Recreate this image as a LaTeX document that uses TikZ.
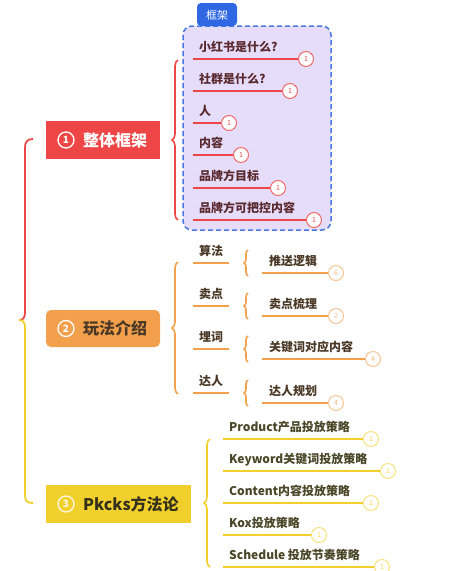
\documentclass[tikz,border=0pt]{standalone}
\usepackage{fontspec}
\setmainfont{Noto Sans CJK SC}
\usetikzlibrary{decorations.pathreplacing}

\definecolor{cRed}{HTML}{EE4646}
\definecolor{cOrange}{HTML}{F2A04C}
\definecolor{cYellow}{HTML}{F1CF2C}
\definecolor{cLav}{HTML}{E6DDFB}
\definecolor{cBlue}{HTML}{4A78DE}
\definecolor{cTab}{HTML}{2F68E2}
\definecolor{tRed}{HTML}{5A2A2E}
\definecolor{tOrange}{HTML}{4A3826}
\definecolor{tYellow}{HTML}{4A4628}

\tikzset{
  headbox/.style={minimum height=38pt, inner sep=0pt},
  headnum/.style={circle, draw=white, line width=1.3pt, minimum size=16pt, inner sep=0pt,
    text=white, font=\bfseries\fontsize{10}{10}\selectfont},
  headtxt/.style={anchor=west, inner sep=0pt, font=\bfseries\fontsize{16}{16}\selectfont},
  item/.style={anchor=base west, inner sep=0pt, font=\bfseries\fontsize{12}{12}\selectfont},
  badge/.style={circle, fill=white, line width=1pt, minimum size=15pt, inner sep=0pt,
    font=\fontsize{7}{7}\selectfont},
  rbadge/.style={badge, draw=cRed!80, text=cRed},
  obadge/.style={badge, draw=cOrange!60, text=cOrange!70},
  ybadge/.style={badge, draw=cYellow!60, text=cYellow!80},
  rline/.style={cRed, line width=2.4pt},
  oline/.style={cOrange, line width=2pt},
  yline/.style={cYellow, line width=2pt},
  mbrace/.style={decorate, decoration={brace, amplitude=#1}, line width=1.6pt},
}

\begin{document}
\begin{tikzpicture}[x=1pt, y=-1pt]
  \useasboundingbox (0,0) rectangle (476,571);

  % spine on the left
  \coordinate (s1) at (33,139);
  \coordinate (sm) at (19,320);
  \coordinate (s3) at (33,503);
  \draw[cRed, line width=1.8pt] (s1) .. controls (27,139) and (25,142) .. (25,148)
    -- (25,312) .. controls (25,318) and (23,320) .. (sm);
  \draw[cYellow, line width=1.8pt] (sm) .. controls (23,320) and (25,322) .. (25,328)
    -- (25,495) .. controls (25,501) and (27,503) .. (s3);

  % branch 1
  \node[headbox, fill=cRed, minimum width=114pt] (b1) at (103,140) {};
  \node[headnum] (h1) at (66,140) {1};
  \node[headtxt, text=white] (ht1) at (83,140) {整体框架};
  \draw[cBlue, dashed, line width=1.5pt, fill=cLav, rounded corners=9pt,
    dash pattern=on 5pt off 3pt] (183,26) rectangle (331,230);
  \fill[cTab, rounded corners=4pt] (197,26) -- (197,3) -- (237,3) -- (237,26) -- cycle;
  \node[text=white, font=\fontsize{11}{11}\selectfont] (tab) at (217,15) {框架};
  \coordinate (r1t) at (178,60);
  \coordinate (r1b) at (178,220);
  \draw[cRed, mbrace=6pt] (r1b) -- (r1t);
  \foreach \t/\y/\c [count=\i] in {小红书是什么?/59/306, 社群是什么?/91/290, 人/123/229,
      内容/155/241, 品牌方目标/188/278, 品牌方可把控内容/220/314} {
    \coordinate (ra\i) at (193,\y);
    \node[rbadge] (rc\i) at (\c,\y) {1};
    \draw[rline] (ra\i) -- (rc\i.west);
    \node[item, text=tRed] (rt\i) at (199,{\y-8}) {\t};
  }

  % branch 2
  \node[headbox, fill=cOrange, minimum width=114pt, minimum height=37pt,
    rounded corners=5pt] (b2) at (103,328.5) {};
  \node[headnum] (h2) at (66,328.5) {2};
  \node[headtxt, text=tOrange] (ht2) at (83,328.5) {玩法介绍};
  \coordinate (o2t) at (178,262);
  \coordinate (o2b) at (178,394);
  \draw[cOrange, mbrace=6pt] (o2b) -- (o2t);
  \foreach \t/\y/\s/\c/\n [count=\i] in {算法/263/推送逻辑/336/6, 卖点/306/卖点梳理/336/2,
      埋词/349/关键词对应内容/373/4, 达人/393/达人规划/336/4} {
    \coordinate (oa\i) at (193,\y);
    \coordinate (ob\i) at (229,\y);
    \draw[oline] (oa\i) -- (ob\i);
    \node[item, text=tOrange] (ot\i) at (199,{\y-8}) {\t};
    \coordinate (ou\i) at (248,{\y+13});
    \coordinate (ov\i) at (248,{\y-13});
    \draw[cOrange, mbrace=4pt] (ou\i) -- (ov\i);
    \coordinate (os\i) at (262,{\y+10});
    \node[obadge] (oc\i) at (\c,{\y+10}) {\n};
    \draw[oline] (os\i) -- (oc\i.west);
    \node[item, text=tOrange] (ost\i) at (269,{\y+2}) {\s};
  }

  % branch 3
  \node[headbox, fill=cYellow, minimum width=145pt] (b3) at (118.5,504) {};
  \node[headnum, draw=white!85!cYellow, text=white!85!cYellow] (h3) at (66,504) {3};
  \node[headtxt, text=tYellow!70!black] (ht3) at (83,504) {Pkcks方法论};
  \coordinate (y3t) at (210,439);
  \coordinate (y3b) at (210,567);
  \draw[cYellow, mbrace=6pt] (y3b) -- (y3t);
  \foreach \t/\y/\c [count=\i] in {Product产品投放策略/439/371, Keyword关键词投放策略/471/388,
      Content内容投放策略/503/371, Kox投放策略/535/319, Schedule 投放节奏策略/567/382} {
    \coordinate (ya\i) at (223,\y);
    \node[ybadge] (yc\i) at (\c,\y) {1};
    \draw[yline] (ya\i) -- (yc\i.west);
    \node[item, text=tYellow] (yt\i) at (229,{\y-8}) {\t};
  }
\end{tikzpicture}
\end{document}
